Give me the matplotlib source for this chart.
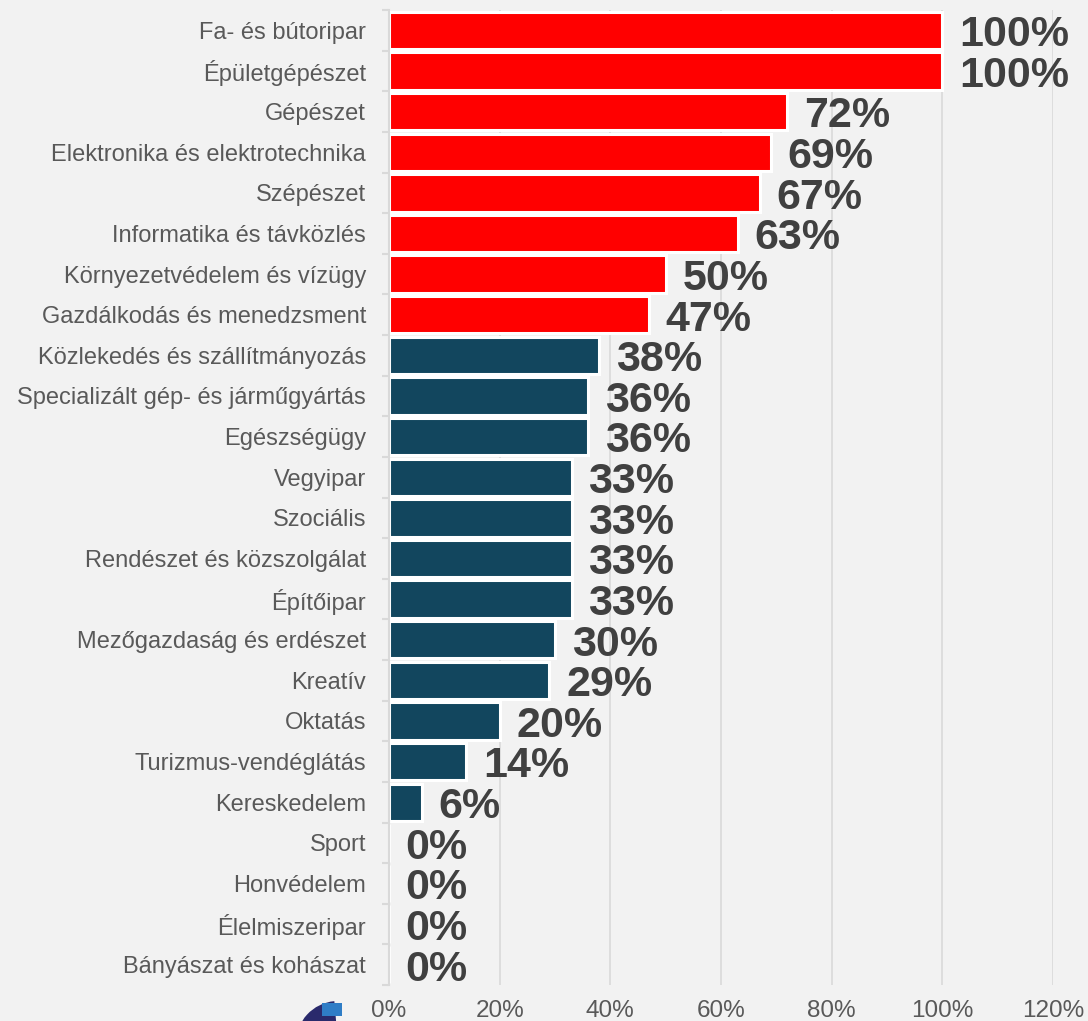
import matplotlib
matplotlib.use("Agg")
import matplotlib.pyplot as plt
from matplotlib.ticker import FuncFormatter, FixedLocator
from matplotlib.patches import Wedge, Rectangle

categories = [
    "Fa- és bútoripar", "Épületgépészet", "Gépészet", "Elektronika és elektrotechnika",
    "Szépészet", "Informatika és távközlés", "Környezetvédelem és vízügy",
    "Gazdálkodás és menedzsment", "Közlekedés és szállítmányozás",
    "Specializált gép- és járműgyártás", "Egészségügy", "Vegyipar", "Szociális",
    "Rendészet és közszolgálat", "Építőipar", "Mezőgazdaság és erdészet", "Kreatív",
    "Oktatás", "Turizmus-vendéglátás", "Kereskedelem", "Sport", "Honvédelem",
    "Élelmiszeripar", "Bányászat és kohászat",
]
values = [100, 100, 72, 69, 67, 63, 50, 47, 38, 36, 36, 33, 33, 33, 33, 30, 29, 20, 14, 6, 0, 0, 0, 0]
highlight = [True] * 8 + [False] * 16
xticks = [0, 20, 40, 60, 80, 100, 120]

plt.rcParams['font.family'] = ['Liberation Sans', 'DejaVu Sans']
fig = plt.figure(figsize=(10.88, 10.21), dpi=100, facecolor="#F2F2F2")
ax = fig.add_axes([389/1088, 1 - 985/1021, (1053-389)/1088, (985-10)/1021])
ax.set_facecolor("#F2F2F2")

n = len(categories)
ys = list(range(n))
colors = ["#FF0000" if h else "#12465E" for h in highlight]
ax.barh(ys, values, height=0.92, color=colors, edgecolor="white", linewidth=2.2, zorder=3)
ax.set_ylim(n - 0.5, -0.5)
ax.set_xlim(0, 120)
ax.set_yticks(ys)
ax.set_yticklabels(categories, fontsize=17, color="#595959")
ax.yaxis.set_minor_locator(FixedLocator([i - 0.5 for i in range(n + 1)]))
ax.set_xticks(xticks)
ax.xaxis.set_major_formatter(FuncFormatter(lambda v, p: f"{int(v)}%"))
ax.tick_params(axis="x", length=0, labelsize=17.5, labelcolor="#595959", pad=11)
ax.tick_params(axis="y", which="major", length=0, pad=16.5)
ax.tick_params(axis="y", which="minor", length=5, color="#D9D9D9", width=1.5)
ax.xaxis.grid(True, color="#D9D9D9", linewidth=1.2, zorder=0)
for s in ["top", "right", "bottom"]:
    ax.spines[s].set_visible(False)
ax.spines["left"].set_color("#D9D9D9")
ax.spines["left"].set_linewidth(1.5)
ax.spines["left"].set_zorder(4)

for y, v in zip(ys, values):
    ax.text(v + 3.0, y + 0.12, f"{v}%", va="center", ha="left", fontsize=31,
            fontweight="bold", color="#404040", zorder=5)

# partial logo at the bottom-left corner
fig.add_artist(Wedge((338, -22), 42, 95, 180, width=20, facecolor="#2A2A6C",
                     edgecolor="none", transform=None))
fig.add_artist(Rectangle((322, 5), 20, 13, facecolor="#2F7DC6", edgecolor="none",
                         transform=None))

fig.savefig("out.png", dpi=100, facecolor="#F2F2F2")
